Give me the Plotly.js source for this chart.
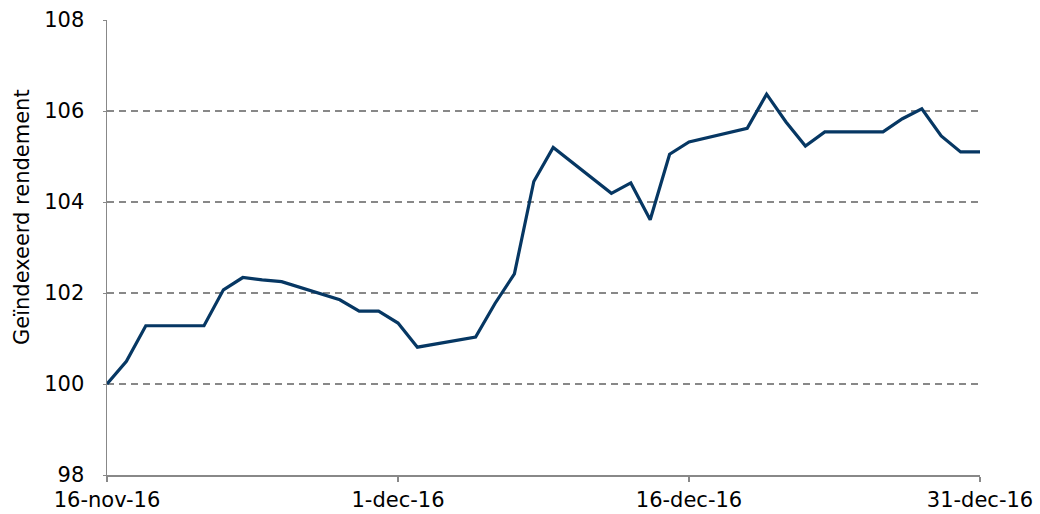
<!DOCTYPE html>
<html>
<head>
<meta charset="utf-8">
<script src="https://cdn.plot.ly/plotly-3.0.1.min.js"></script>
<style>html,body{margin:0;padding:0;background:#fff;}#chart{width:1040px;height:514px;}</style>
</head>
<body>
<div id="chart"></div>
<script>
const dates = ["2016-11-16","2016-11-17","2016-11-18","2016-11-21","2016-11-22","2016-11-23","2016-11-24","2016-11-25",
  "2016-11-28","2016-11-29","2016-11-30","2016-12-01","2016-12-02","2016-12-05","2016-12-06","2016-12-07","2016-12-08",
  "2016-12-09","2016-12-12","2016-12-13","2016-12-14","2016-12-15","2016-12-16","2016-12-19","2016-12-20","2016-12-21",
  "2016-12-22","2016-12-23","2016-12-26","2016-12-27","2016-12-28","2016-12-29","2016-12-30","2016-12-31"];
const values = [100.0,100.5,101.28,101.28,102.07,102.34,102.29,102.25,
  101.85,101.6,101.6,101.34,100.81,101.03,101.77,102.42,104.45,
  105.2,104.19,104.42,103.61,105.05,105.32,105.62,106.37,105.76,
  105.23,105.54,105.54,105.83,106.05,105.45,105.1,105.1];
const tickDates = ["2016-11-16","2016-12-01","2016-12-16","2016-12-31"];
const tickLabels = ["16-nov-16","1-dec-16","16-dec-16","31-dec-16"];
const yTicks = [98,100,102,104,106,108];
const yTitle = "Geïndexeerd rendement";

const font = {family: "DejaVu Sans, Verdana, sans-serif", size: 21, color: "#000"};
Plotly.newPlot("chart", [{
  x: dates, y: values, type: "scatter", mode: "lines",
  line: {color: "#063763", width: 3.2}, hoverinfo: "skip"
}], {
  width: 1040, height: 514,
  margin: {l: 107, r: 60, t: 20, b: 39},
  paper_bgcolor: "#fff", plot_bgcolor: "#fff",
  font: font,
  showlegend: false,
  xaxis: {
    type: "date", range: ["2016-11-16","2016-12-31"],
    tickvals: tickDates, ticktext: tickLabels,
    showgrid: false, zeroline: false, automargin: false,
    showline: true, linecolor: "#888", linewidth: 1.5,
    ticks: "outside", ticklen: 5, tickcolor: "#888", tickwidth: 1.5,
    tickfont: font, ticklabelstandoff: 0
  },
  yaxis: {
    range: [98,108], tickvals: yTicks, automargin: false,
    showgrid: true, gridcolor: "#888", griddash: "7px,5px", gridwidth: 1.5,
    zeroline: false,
    showline: true, linecolor: "#888", linewidth: 1.5,
    ticks: "outside", ticklen: 3, tickcolor: "#888",
    tickfont: font, ticklabelstandoff: 14
  },
  annotations: [{
    text: yTitle, textangle: -90, font: font, showarrow: false,
    xref: "paper", yref: "paper", x: 0, xshift: -85, xanchor: "center",
    y: 0.567, yanchor: "middle"
  }]
}, {displayModeBar: false, staticPlot: true});
</script>
</body>
</html>
